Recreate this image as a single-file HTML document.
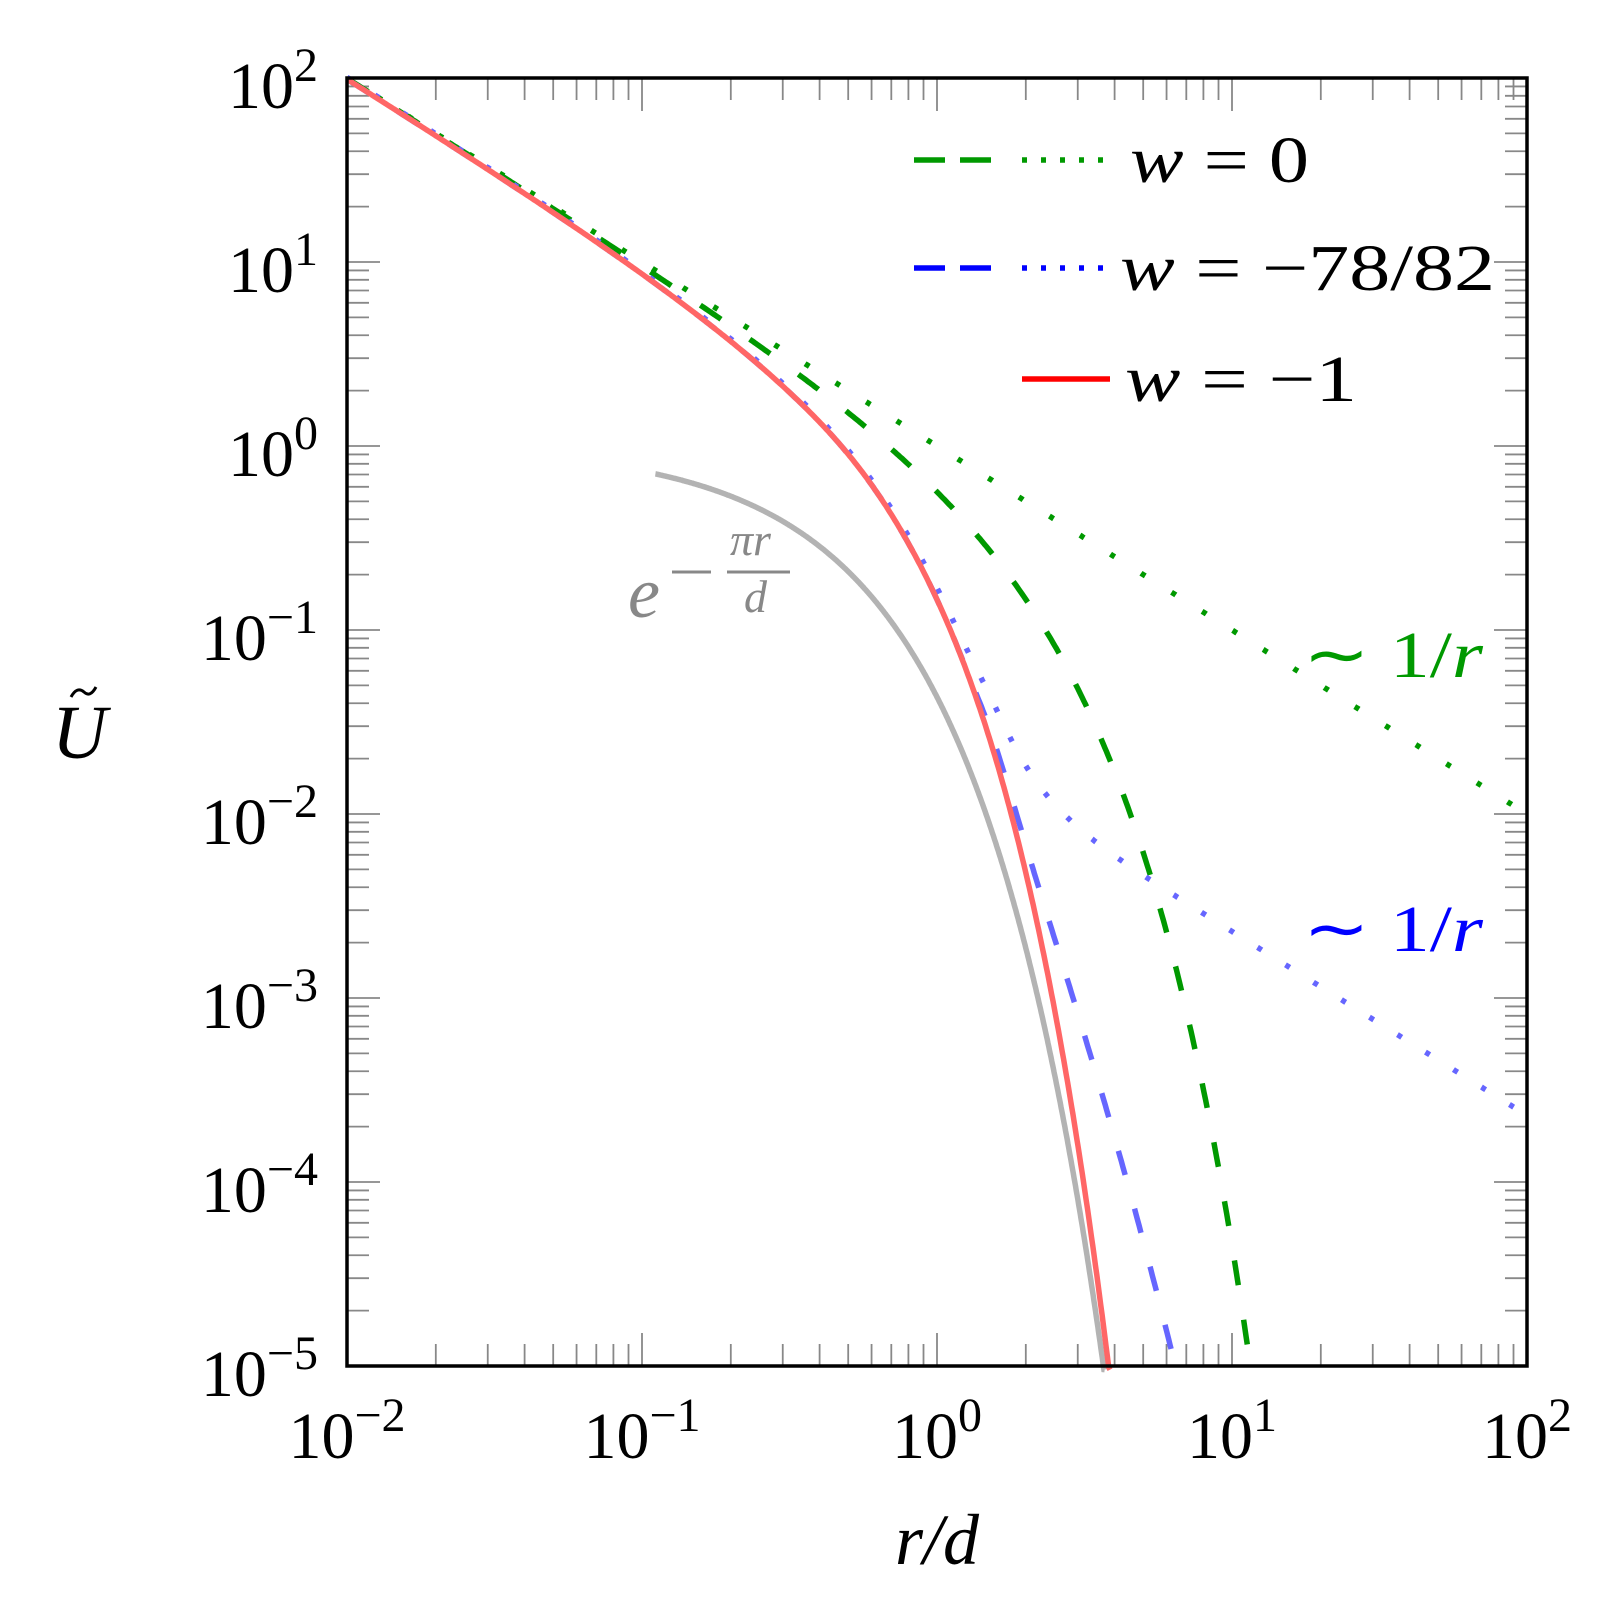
<!DOCTYPE html>
<html><head><meta charset="utf-8"><style>
html,body{margin:0;padding:0;background:#fff;}
svg{display:block;}
text{font-family:"Liberation Serif",serif;}
</style></head><body>
<svg id="s" width="1603" height="1617" viewBox="0 0 1603 1617" xmlns="http://www.w3.org/2000/svg">
<g id="ticks" stroke="#888" stroke-width="1.8"></g>
<g id="curves" fill="none"></g>
<rect x="347" y="78" width="1180" height="1288" fill="none" stroke="#000" stroke-width="3.5"/>
<g id="labels" font-size="66" fill="#000"></g>
<!-- legend -->
<line x1="914" y1="160" x2="991" y2="160" stroke="#009900" stroke-width="5.5" stroke-dasharray="31 15"/>
<line x1="1022" y1="160" x2="1110" y2="160" stroke="#009900" stroke-width="5.5" stroke-dasharray="5 14"/>
<text x="1130" y="182" font-size="66" textLength="179" lengthAdjust="spacingAndGlyphs"><tspan font-style="italic">w</tspan> = 0</text>
<line x1="914" y1="268" x2="991" y2="268" stroke="#0000ff" stroke-width="5.5" stroke-dasharray="31 15"/>
<line x1="1022" y1="268" x2="1110" y2="268" stroke="#0000ff" stroke-width="5.5" stroke-dasharray="5 14"/>
<text x="1120" y="290" font-size="66" textLength="375" lengthAdjust="spacingAndGlyphs"><tspan font-style="italic">w</tspan> = −78/82</text>
<line x1="1022" y1="379" x2="1110" y2="379" stroke="#ff0000" stroke-width="5.5"/>
<text x="1125" y="401" font-size="66" textLength="232" lengthAdjust="spacingAndGlyphs"><tspan font-style="italic">w</tspan> = −1</text>
<text x="1303" y="677" font-size="66" fill="#009900" textLength="180" lengthAdjust="spacingAndGlyphs">∼ 1/<tspan font-style="italic">r</tspan></text>
<text x="1303" y="951" font-size="66" fill="#0000ff" textLength="180" lengthAdjust="spacingAndGlyphs">∼ 1/<tspan font-style="italic">r</tspan></text>
<text x="628" y="617" font-size="72" fill="#888" font-style="italic">e</text>
<line x1="672" y1="572" x2="711" y2="572" stroke="#888" stroke-width="3"/>
<text x="730" y="555" font-size="46" fill="#888" font-style="italic">πr</text>
<line x1="727" y1="572" x2="790" y2="572" stroke="#888" stroke-width="3"/>
<text x="744" y="612" font-size="46" fill="#888" font-style="italic">d</text>
<text x="52" y="758" font-size="76" font-style="italic">U</text>
<path d="M71,697 Q77,686 84,692 Q90,698 96,687" stroke="#000" stroke-width="3" fill="none"/>
<text x="937" y="1564" font-size="72" text-anchor="middle" font-style="italic">r/d</text>
</svg>
<script>
var NS="http://www.w3.org/2000/svg";
function X(lx){return 347+295*(lx+2);}
function Y(ly){return 78+184*(2-ly);}
function el(p,tag,a){var e=document.createElementNS(NS,tag);for(var k in a)e.setAttribute(k,a[k]);p.appendChild(e);return e;}
var T=document.getElementById('ticks');
for(var d=-2;d<2;d++)for(var m=1;m<10;m++){var lx=d+Math.log10(m);var x=X(lx);var L=m==1?33:22;if(m==1&&d==-2)continue;
 el(T,'line',{x1:x,y1:78,x2:x,y2:78+L});el(T,'line',{x1:x,y1:1366,x2:x,y2:1366-L});}
for(var d=-5;d<2;d++)for(var m=1;m<10;m++){var ly=d+Math.log10(m);var y=Y(ly);var L=m==1?33:22;if(m==1&&d==-5)continue;
 el(T,'line',{x1:347,y1:y,x2:347+L,y2:y});el(T,'line',{x1:1527,y1:y,x2:1527-L,y2:y});}
var Lb=document.getElementById('labels');
var sup={"-5":"−5","-4":"−4","-3":"−3","-2":"−2","-1":"−1","0":"0","1":"1","2":"2"};
for(var d=-2;d<=2;d++){var t=el(Lb,'text',{x:X(d),y:1458,'text-anchor':'middle'});t.innerHTML='10<tspan dy="-27" font-size="48">'+sup[d]+'</tspan>';}
for(var d=-5;d<=2;d++){var t=el(Lb,'text',{x:318,y:Y(d)+30,'text-anchor':'end'});t.innerHTML='10<tspan dy="-27" font-size="48">'+sup[d]+'</tspan>';}
function smax(a,b,p){return Math.pow(Math.pow(a,p)+Math.pow(b,p),1/p);}
function A(r){return Math.exp(-1.5*r)/r;}
function red(r){var s=1/(1+Math.pow(0.6/r,6));var lt=Math.log(4.3)-3.4*r;return Math.exp((1-s)*Math.log(A(r))+s*lt);}
function Tb(r){return Math.exp(-1.476-0.384*r)/Math.pow(r,4.07)*(1-Math.exp(-Math.pow(r/1.3,8)));}
function bd(r){return smax(red(r),Tb(r),4);}
function bdot(r){return bd(r)+0.023/r;}
function gd(r){return Math.exp(-1.3*r)/r+0.77*Math.exp(-0.975*r);}
function gdot(r){return 1/r;}
function gray(r){return Math.exp(-Math.PI*r);}
function path(f,r0,r1){var s="",n=600;var l0=Math.log10(r0),l1=Math.log10(r1);
 for(var i=0;i<=n;i++){var lx=l0+(l1-l0)*i/n;var r=Math.pow(10,lx);var u=f(r);var ly=Math.log10(u);
  if(ly<-5.02)ly=-5.02;s+=(i?" L":"M")+X(lx).toFixed(1)+","+Y(ly).toFixed(1);if(ly<=-5.02)break;}
 return s;}
var C=document.getElementById('curves');
el(C,'path',{d:path(gray,0.111,4),stroke:'#b3b3b3','stroke-width':5.5});
el(C,'path',{d:path(gdot,0.01,100),stroke:'#009900','stroke-width':5.5,'stroke-dasharray':'5 31'});
el(C,'path',{d:path(gd,0.01,20),stroke:'#009900','stroke-width':5.5,'stroke-dasharray':'25 35'});
el(C,'path',{d:path(bdot,0.01,100),stroke:'#6666ff','stroke-width':5.5,'stroke-dasharray':'5 28'});
el(C,'path',{d:path(bd,0.01,10),stroke:'#6666ff','stroke-width':5.5,'stroke-dasharray':'25 35'});
el(C,'path',{d:path(red,0.01,5),stroke:'#ff6666','stroke-width':5.5});
</script>
</body></html>
